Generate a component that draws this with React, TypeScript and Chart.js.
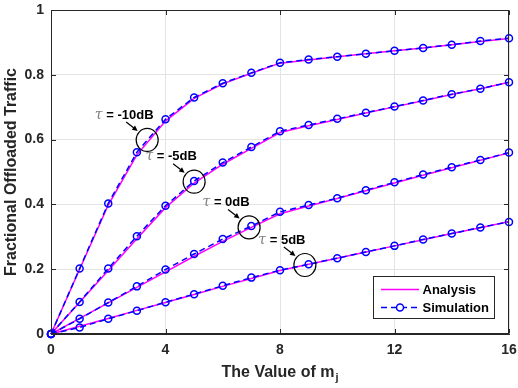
import React, { useEffect, useRef } from 'react';
import { Chart, registerables } from 'chart.js';

Chart.register(...registerables);

// ---------- data ----------
const mValues = [0, 1, 2, 3, 4, 5, 6, 7, 8, 9, 10, 11, 12, 13, 14, 15, 16];

const analysisM10 = [0, 0.2, 0.398, 0.553, 0.657, 0.727, 0.772, 0.805, 0.836, 0.846, 0.856, 0.865, 0.874, 0.883, 0.893, 0.903, 0.912];
const simulationM10 = [0, 0.202, 0.403, 0.561, 0.663, 0.73, 0.774, 0.806, 0.837, 0.847, 0.856, 0.865, 0.874, 0.883, 0.893, 0.904, 0.913];

const analysisM5 = [0, 0.098, 0.196, 0.294, 0.39, 0.466, 0.524, 0.573, 0.622, 0.643, 0.662, 0.682, 0.701, 0.72, 0.739, 0.757, 0.777];
const simulationM5 = [0, 0.099, 0.202, 0.302, 0.396, 0.472, 0.529, 0.577, 0.626, 0.645, 0.664, 0.683, 0.702, 0.721, 0.74, 0.757, 0.777];

const analysis0 = [0, 0.048, 0.096, 0.144, 0.192, 0.24, 0.286, 0.329, 0.371, 0.395, 0.418, 0.442, 0.466, 0.49, 0.513, 0.536, 0.559];
const simulation0 = [0, 0.047, 0.097, 0.147, 0.199, 0.247, 0.293, 0.333, 0.377, 0.398, 0.419, 0.444, 0.468, 0.492, 0.515, 0.537, 0.56];

const analysis5 = [0, 0.024, 0.048, 0.073, 0.097, 0.122, 0.147, 0.171, 0.196, 0.215, 0.234, 0.253, 0.272, 0.291, 0.31, 0.328, 0.347];
const simulation5 = [0, 0.02, 0.047, 0.072, 0.098, 0.123, 0.149, 0.174, 0.197, 0.215, 0.234, 0.253, 0.272, 0.292, 0.31, 0.329, 0.346];

const xTicks = [0, 4, 8, 12, 16];
const yTicks = [0, 0.2, 0.4, 0.6, 0.8, 1];

const legendLabels = ['Analysis', 'Simulation'];
const xTitle = 'The Value of m';
const xTitleSub = 'j';
const yTitle = 'Fractional Offloaded Traffic';

// annotation labels and circled points (data coords)
const annLabels = ['-10dB', '-5dB', '0dB', '5dB'];
const annX = [3.36, 5.0, 6.92, 8.87];
const annY = [0.599, 0.47, 0.329, 0.213];

const FONT = '"Liberation Sans", Arial, Helvetica, sans-serif';
const AXIS = '#262626';
const MAGENTA = '#ff00ff';
const BLUE = '#0000ff';

const toPts = (arr: number[]) => mValues.map((m, i) => ({ x: m, y: arr[i] }));

export default function App() {
  const ref = useRef<HTMLCanvasElement>(null);

  useEffect(() => {
    const canvas = ref.current;
    if (!canvas) return;

    const drawArrow = (ctx: CanvasRenderingContext2D, x1: number, y1: number, x2: number, y2: number) => {
      const ang = Math.atan2(y2 - y1, x2 - x1);
      const head = 6;
      ctx.strokeStyle = '#000';
      ctx.fillStyle = '#000';
      ctx.lineWidth = 1.2;
      ctx.beginPath();
      ctx.moveTo(x1, y1);
      ctx.lineTo(x2 - Math.cos(ang) * head * 0.8, y2 - Math.sin(ang) * head * 0.8);
      ctx.stroke();
      ctx.beginPath();
      ctx.moveTo(x2, y2);
      ctx.lineTo(x2 - head * Math.cos(ang - 0.45), y2 - head * Math.sin(ang - 0.45));
      ctx.lineTo(x2 - head * Math.cos(ang + 0.45), y2 - head * Math.sin(ang + 0.45));
      ctx.closePath();
      ctx.fill();
    };

    const decor = {
      id: 'matlabDecor',
      beforeDraw(chart: any) {
        const ctx = chart.ctx;
        ctx.save();
        ctx.fillStyle = '#fff';
        ctx.fillRect(0, 0, chart.width, chart.height);
        ctx.restore();
      },
      afterDatasetsDraw(chart: any) {
        const ctx: CanvasRenderingContext2D = chart.ctx;
        const xs = chart.scales.x;
        const ys = chart.scales.y;
        ctx.save();
        annLabels.forEach((lab, i) => {
          const cx = xs.getPixelForValue(annX[i]);
          const cy = ys.getPixelForValue(annY[i]);
          // circle
          ctx.strokeStyle = '#000';
          ctx.lineWidth = 1.2;
          ctx.beginPath();
          ctx.ellipse(cx, cy, 11, 11.5, 0, 0, Math.PI * 2);
          ctx.stroke();
          // arrow
          drawArrow(ctx, cx - 21, cy - 18, cx - 9.5, cy - 9);
          // text
          const tau = '\u03c4';
          const rest = ' = ' + lab;
          ctx.font = `italic 14px "DejaVu Serif", "Liberation Serif", serif`;
          const wt = ctx.measureText(tau).width;
          ctx.font = `bold 13px ${FONT}`;
          const wr = ctx.measureText(rest).width;
          const tx = cx - 23 - (wt + wr) / 2;
          const ty = cy - 25;
          ctx.textBaseline = 'middle';
          ctx.textAlign = 'left';
          ctx.fillStyle = '#808080';
          ctx.font = `italic 14px "DejaVu Serif", "Liberation Serif", serif`;
          ctx.fillText(tau, tx, ty);
          ctx.fillStyle = '#000';
          ctx.font = `bold 13px ${FONT}`;
          ctx.fillText(rest, tx + wt, ty);
        });
        ctx.restore();
      },
      afterDraw(chart: any) {
        const ctx: CanvasRenderingContext2D = chart.ctx;
        const a = chart.chartArea;
        const xs = chart.scales.x;
        const ys = chart.scales.y;
        ctx.save();
        // box
        ctx.strokeStyle = AXIS;
        ctx.lineWidth = 1;
        const L = Math.round(a.left) + 0.5;
        const R = Math.round(a.right) - 0.5;
        const T = Math.round(a.top) + 0.5;
        const B = Math.round(a.bottom) - 0.5;
        ctx.strokeRect(L, T, R - L, B - T);
        // inward ticks
        const tl = 4.5;
        ctx.beginPath();
        xTicks.forEach((v) => {
          const px = Math.round(xs.getPixelForValue(v)) + 0.5;
          ctx.moveTo(px, B);
          ctx.lineTo(px, B - tl);
          ctx.moveTo(px, T);
          ctx.lineTo(px, T + tl);
        });
        yTicks.forEach((v) => {
          const py = Math.round(ys.getPixelForValue(v)) + 0.5;
          ctx.moveTo(L, py);
          ctx.lineTo(L + tl, py);
          ctx.moveTo(R, py);
          ctx.lineTo(R - tl, py);
        });
        ctx.stroke();

        // y title
        ctx.fillStyle = AXIS;
        ctx.font = `bold 16px ${FONT}`;
        ctx.textAlign = 'center';
        ctx.textBaseline = 'middle';
        ctx.save();
        ctx.translate(a.left - 39, (a.top + a.bottom) / 2);
        ctx.rotate(-Math.PI / 2);
        ctx.fillText(yTitle, 0, 0);
        ctx.restore();

        // x title with subscript
        ctx.font = `bold 16px ${FONT}`;
        const w1 = ctx.measureText(xTitle).width;
        ctx.font = `bold 11px ${FONT}`;
        const w2 = ctx.measureText(xTitleSub).width;
        const xc = (a.left + a.right) / 2;
        const x0 = xc - (w1 + w2 + 1) / 2;
        const yb = a.bottom + 43;
        ctx.textAlign = 'left';
        ctx.textBaseline = 'alphabetic';
        ctx.font = `bold 16px ${FONT}`;
        ctx.fillText(xTitle, x0, yb);
        ctx.font = `bold 11px ${FONT}`;
        ctx.fillText(xTitleSub, x0 + w1 + 1, yb + 4);

        // legend
        const bw = 121;
        const bh = 42;
        const bx = Math.round(a.right - 15 - bw) + 0.5;
        const by = Math.round(a.bottom - 16 - bh) + 0.5;
        ctx.fillStyle = '#fff';
        ctx.fillRect(bx, by, bw, bh);
        ctx.strokeStyle = AXIS;
        ctx.lineWidth = 1;
        ctx.strokeRect(bx, by, bw, bh);
        const lx1 = bx + 7.5;
        const lx2 = bx + 45.5;
        const r1 = by + 13;
        const r2 = by + 31;
        ctx.strokeStyle = MAGENTA;
        ctx.lineWidth = 1.5;
        ctx.beginPath();
        ctx.moveTo(lx1, r1);
        ctx.lineTo(lx2, r1);
        ctx.stroke();
        ctx.strokeStyle = BLUE;
        ctx.setLineDash([6, 4]);
        ctx.beginPath();
        ctx.moveTo(lx1, r2);
        ctx.lineTo(lx2, r2);
        ctx.stroke();
        ctx.setLineDash([]);
        ctx.beginPath();
        ctx.arc((lx1 + lx2) / 2, r2, 3.5, 0, Math.PI * 2);
        ctx.fillStyle = '#fff';
        ctx.fill();
        ctx.stroke();
        ctx.fillStyle = '#000';
        ctx.font = `bold 13px ${FONT}`;
        ctx.textAlign = 'left';
        ctx.textBaseline = 'middle';
        ctx.fillText(legendLabels[0], bx + 49, r1 + 0.5);
        ctx.fillText(legendLabels[1], bx + 49, r2 + 0.5);
        ctx.restore();
      },
    };

    const simDs = (arr: number[]) => ({
      data: toPts(arr),
      borderColor: BLUE,
      borderWidth: 1.5,
      borderDash: [6, 4],
      pointRadius: 3.5,
      pointBorderWidth: 1.5,
      pointBorderColor: BLUE,
      pointBackgroundColor: 'rgba(0,0,0,0)',
      pointStyle: 'circle',
      fill: false,
      tension: 0,
      clip: false,
    });
    const anaDs = (arr: number[]) => ({
      data: toPts(arr),
      borderColor: MAGENTA,
      borderWidth: 1.5,
      pointRadius: 0,
      fill: false,
      tension: 0,
      clip: false,
    });

    const tickFont = { family: FONT, size: 14, weight: 'bold' as const };
    const zeroPad = (s: any) => {
      s.paddingTop = 0;
      s.paddingBottom = 0;
      s.paddingLeft = 0;
      s.paddingRight = 0;
    };

    const chart = new Chart(canvas, {
      type: 'line',
      data: {
        datasets: [
          simDs(simulationM10),
          simDs(simulationM5),
          simDs(simulation0),
          simDs(simulation5),
          anaDs(analysisM10),
          anaDs(analysisM5),
          anaDs(analysis0),
          anaDs(analysis5),
        ] as any,
      },
      options: {
        responsive: false,
        animation: false,
        devicePixelRatio: 1,
        layout: { padding: { top: 10, right: 9, left: 0, bottom: 0 } },
        plugins: { legend: { display: false }, tooltip: { enabled: false }, title: { display: false } },
        scales: {
          x: {
            type: 'linear',
            min: 0,
            max: 16,
            afterBuildTicks: (s: any) => {
              s.ticks = xTicks.map((v) => ({ value: v }));
            },
            ticks: { color: AXIS, padding: 8, font: tickFont, maxRotation: 0 },
            grid: { color: '#e3e3e3', drawTicks: false, lineWidth: 1 },
            border: { color: AXIS, width: 1 },
            afterFit: (s: any) => {
              s.height = 54;
              zeroPad(s);
            },
          },
          y: {
            type: 'linear',
            min: 0,
            max: 1,
            afterBuildTicks: (s: any) => {
              s.ticks = yTicks.map((v) => ({ value: v }));
            },
            ticks: { color: AXIS, padding: 7, font: tickFont, callback: (v: any) => String(Math.round(Number(v) * 10) / 10) },
            grid: { color: '#e3e3e3', drawTicks: false, lineWidth: 1 },
            border: { color: AXIS, width: 1 },
            afterFit: (s: any) => {
              s.width = 51;
              zeroPad(s);
            },
          },
        },
      } as any,
      plugins: [decor],
    });

    return () => chart.destroy();
  }, []);

  return (
    <div style={{ position: 'fixed', left: 0, top: 0, width: 518, height: 388, background: '#fff' }}>
      <canvas ref={ref} width={518} height={388} style={{ display: 'block', width: 518, height: 388 }} />
    </div>
  );
}
